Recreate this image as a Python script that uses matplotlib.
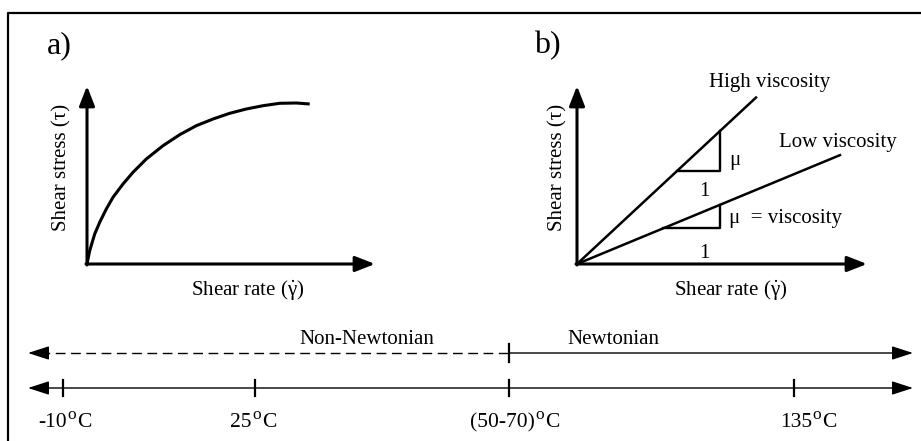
import numpy as np
import matplotlib.pyplot as plt

plt.rcParams['font.family'] = ['Liberation Serif', 'DejaVu Serif']
plt.rcParams['mathtext.fontset'] = 'custom'
plt.rcParams['mathtext.rm'] = 'Liberation Serif'
plt.rcParams['mathtext.it'] = 'Liberation Serif'

# panel a: shear-thinning curve (pixel offsets from the panel origin)
rate_a = [0, 2.7, 7.7, 12.7, 19.3, 26, 36, 46, 59.3, 76, 92.7, 109.3,
          126, 142.7, 159.3, 176, 192.7, 209.3, 222.7]
stress_a = [0, 13.3, 30, 41.7, 55, 66.7, 80, 91.7, 105, 118.3, 129.3, 138.3,
            145, 150.7, 155, 158.3, 160.7, 161, 160]

# panel b: two newtonian fluids, slope and how far each line runs
fluids = ["High viscosity", "Low viscosity"]
slopes = [0.93, 0.414]
line_end = [179, 263]
tri_start = [100, 86]
tri_end = [143, 143]

# temperature scale along the bottom
temp_labels = ["-10", "25", "(50-70)", "135"]
temp_pos = [63, 255, 509, 794]
label_shift = [-25, -25, -39, -14]
transition = 509

FS = 15

fig = plt.figure(figsize=(9.21, 4.41), dpi=100)
ax = fig.add_axes([0, 0, 1, 1])
ax.set_xlim(0, 921)
ax.set_ylim(441, 0)
ax.axis('off')

# frame
ax.plot([8, 8, 925], [445, 13, 13], color='k', lw=1.6)


def arrow(x0, y0, x1, y1, lw=2.2, hl=1.2, hw=0.47, style='-|>'):
    ax.annotate("", xy=(x1, y1), xytext=(x0, y0),
                arrowprops=dict(arrowstyle=f"{style},head_length={hl},head_width={hw}",
                                lw=lw, color='k', shrinkA=0, shrinkB=0,
                                mutation_scale=10))


def axes_pair(ox, oy, xtip, label_x, label_y_pos):
    arrow(ox, oy + 1, ox, 86)
    arrow(ox - 1, oy, xtip, oy)
    ax.text(label_y_pos, oy - 97, "Shear stress (τ)", rotation=90,
            ha='center', va='center', fontsize=FS)
    ax.text(label_x, oy + 26, r"Shear rate ($\dot{\gamma}$)",
            ha='center', va='center', fontsize=FS)


# panel a
oa = (87, 264)
axes_pair(oa[0], oa[1], 375, 248, 62)
ax.plot(oa[0] + np.array(rate_a), oa[1] - np.array(stress_a), color='k', lw=2.2,
        solid_capstyle='butt', solid_joinstyle='round')
ax.text(47, 46, "a)", fontsize=23, ha='left', va='center')

# panel b
ob = (577, 264)
axes_pair(ob[0], ob[1], 867, 731, 558)
ax.text(534, 46, "b)", fontsize=23, ha='left', va='center')
for s, e, t0, t1 in zip(slopes, line_end, tri_start, tri_end):
    ax.plot([ob[0], ob[0] + e], [ob[1], ob[1] - s * e], color='k', lw=1.8)
    ax.plot([ob[0] + t0, ob[0] + t1, ob[0] + t1],
            [ob[1] - s * t0, ob[1] - s * t0, ob[1] - s * t1], color='k', lw=1.7)
ax.text(770, 82, fluids[0], fontsize=FS, ha='center', va='center')
ax.text(838, 142, fluids[1], fontsize=FS, ha='center', va='center')
ax.text(729, 161, "μ", fontsize=FS, ha='left', va='center')
ax.text(704, 191, "1", fontsize=FS, ha='center', va='center')
ax.text(729, 218, "μ  = viscosity", fontsize=FS, ha='left', va='center')
ax.text(704, 254, "1", fontsize=FS, ha='center', va='center')

# flow regime line
yr = 353
ax.plot([40, transition], [yr, yr], color='k', lw=1.0, ls=(0, (7, 4)))
arrow(45, yr, 28, yr, lw=1.0, hl=1.3, hw=0.42)
arrow(transition, yr, 913, yr, lw=1.0, hl=1.3, hw=0.42)
ax.plot([transition, transition], [344, 362], color='k', lw=1.6)
ax.text(367, 340, "Non-Newtonian", fontsize=FS, ha='center', va='center')
ax.text(613, 340, "Newtonian", fontsize=FS, ha='center', va='center')

# temperature line, degree sign drawn as a raised "o"
yt = 388
arrow(28, yt, 913, yt, lw=1.0, hl=1.3, hw=0.42, style='<|-|>')
for lab, x, dx in zip(temp_labels, temp_pos, label_shift):
    ax.plot([x, x], [380, 396], color='k', lw=1.6)
    t = ax.text(x + dx, 432, lab, fontsize=15.5, ha='left', va='bottom')
    o = ax.annotate("o", xy=(1, 0), xycoords=t, xytext=(0.3, 6.5),
                    textcoords='offset points', fontsize=12.5,
                    ha='left', va='bottom')
    ax.annotate("C", xy=(1, 0), xycoords=(o, t), xytext=(0.8, 0),
                textcoords='offset points', fontsize=15.5,
                ha='left', va='bottom')

fig.savefig("out.png", dpi=100)
